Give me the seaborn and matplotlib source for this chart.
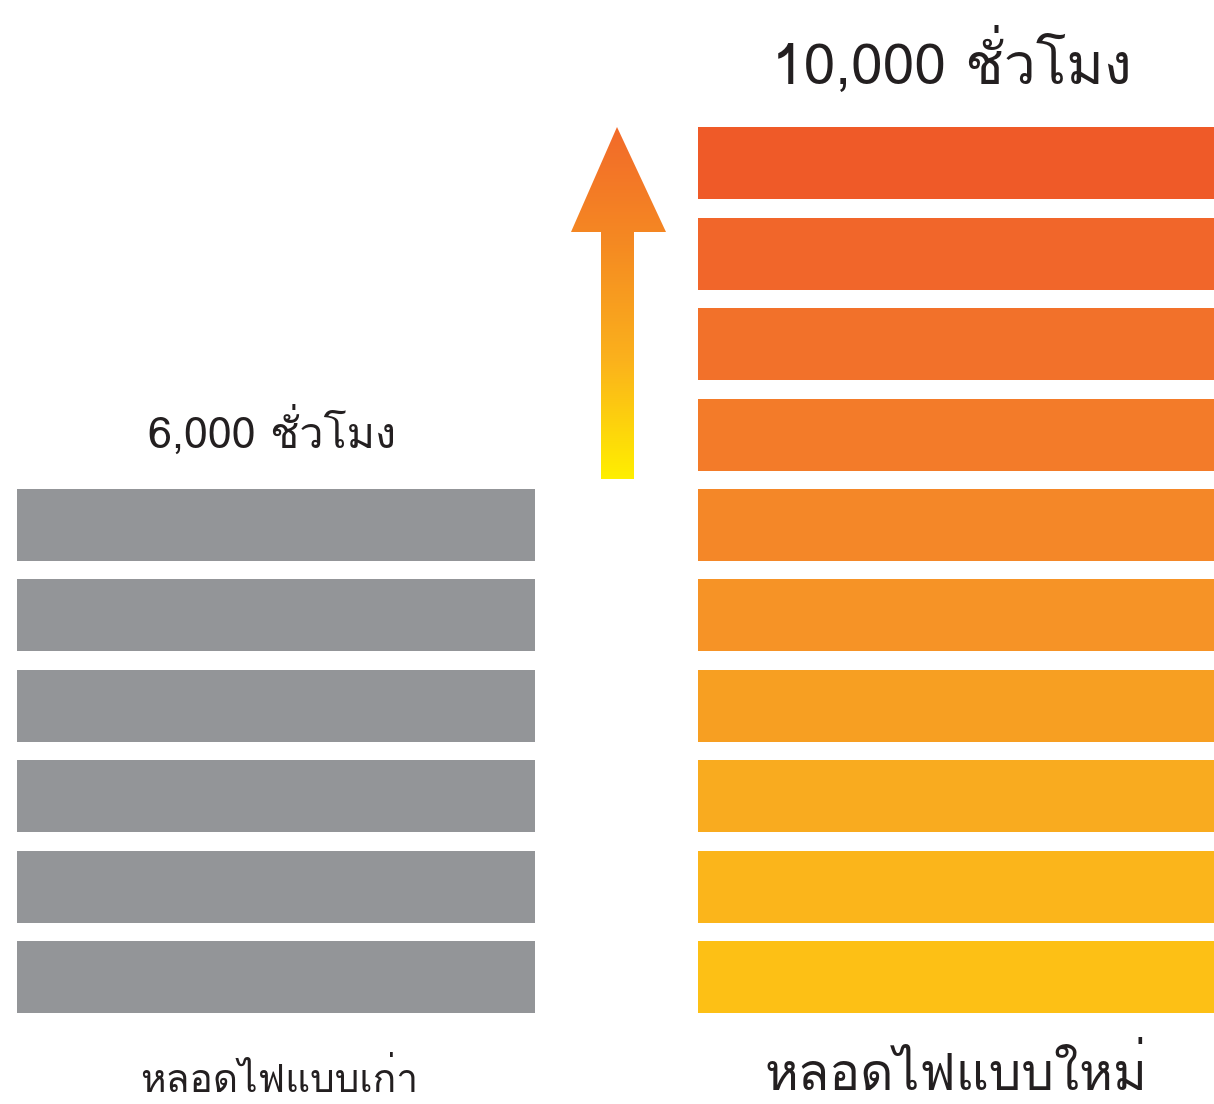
import numpy as np
import pandas as pd
import matplotlib
matplotlib.use('Agg')
import matplotlib.pyplot as plt
import seaborn as sns
from matplotlib import font_manager
from matplotlib.ft2font import FT2Font
from matplotlib.patches import Polygon
from matplotlib.colors import LinearSegmentedColormap

# data
lamps = ['หลอดไฟแบบเก่า', 'หลอดไฟแบบใหม่']
hours = [6000, 10000]
step = 1000
hour_labels = ['6,000 ชั่วโมง', '10,000 ชั่วโมง']

gray = '#939598'
orange_steps = ['#FDC015', '#FBB51B', '#F9AB1F', '#F79F22', '#F69326',
                '#F48728', '#F37B29', '#F2712A', '#F1662A', '#EF5A28']


def find_thai_font():
    """หา font ที่มีตัวอักษรไทย"""
    for f in font_manager.fontManager.ttflist:
        try:
            cmap = FT2Font(f.fname).get_charmap()
        except Exception:
            continue
        if 0x0E2B in cmap and 0x0E21 in cmap:
            return f.name
    return None


sns.set_style('white')
thai = find_thai_font()
fams = ['DejaVu Sans']
if thai:
    fams = [thai, 'DejaVu Sans']
plt.rcParams['font.family'] = fams

fig = plt.figure(figsize=(12.14, 11.04), dpi=100)
ax = fig.add_axes([0, 0, 1, 1])

# แต่ละช่องคือ 1000 ชั่วโมง มีช่องว่างสีขาวด้านบน
gap = 204
bar_w = 0.76
for i, lamp in enumerate(lamps):
    n = hours[i] // step
    for k in range(n):
        c = gray if i == 0 else orange_steps[k]
        sns.barplot(x=[lamp], y=[step - gap], order=lamps, bottom=k * step,
                    color=c, width=bar_w, errorbar=None, linewidth=0,
                    saturation=1, ax=ax)

# แปลงพิกัดพิกเซลเป็นพิกัดข้อมูล
px = 1 / 681.0
py = 10000 / 904.0
def to_data(xp, yp):
    return (xp - 17) * px - 0.38, (1013 - yp) * py

# ลูกศรไล่สี
pts = [to_data(601, 479), to_data(634, 479), to_data(634, 232), to_data(666, 232),
       to_data(617, 127), to_data(571, 232), to_data(601, 232)]
arrow = Polygon(pts, closed=True, facecolor='none', edgecolor='none')
ax.add_patch(arrow)
cmap = LinearSegmentedColormap.from_list('arr', ['#FFEF00', '#FBB21C', '#F58A22', '#F26A2A'])
grad = np.linspace(0, 1, 256).reshape(-1, 1)
x0, y0 = to_data(571, 479)
x1, y1 = to_data(666, 127)
im = ax.imshow(grad, cmap=cmap, origin='lower', aspect='auto',
               extent=[x0, x1, y0, y1], zorder=3)
im.set_clip_path(arrow)

# ข้อความ
ax.text(to_data(272, 0)[0], to_data(0, 432)[1], hour_labels[0], ha='center', va='center',
        fontsize=31, color='#231F20')
ax.text(to_data(952, 0)[0], to_data(0, 62)[1], hour_labels[1], ha='center', va='center',
        fontsize=41, color='#231F20')
ax.text(to_data(279, 0)[0], to_data(0, 1080)[1], lamps[0], ha='center', va='center',
        fontsize=28, color='#231F20')
ax.text(to_data(956, 0)[0], to_data(0, 1074)[1], lamps[1], ha='center', va='center',
        fontsize=37, color='#231F20')

left = to_data(0, 0)[0]
ax.set_xlim(left, left + 1214 * px)
ax.set_ylim(to_data(0, 1104)[1], to_data(0, 0)[1])
ax.axis('off')

fig.savefig('out.png', dpi=100, facecolor='white')
